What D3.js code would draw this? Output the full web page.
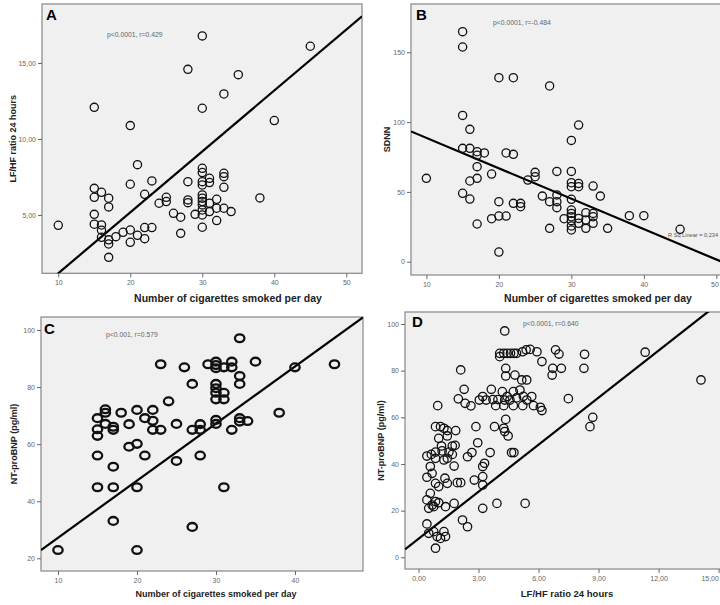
<!DOCTYPE html>
<html>
<head>
<meta charset="utf-8">
<script src="https://cdn.jsdelivr.net/npm/d3@7"></script>
<style>
  html, body { margin: 0; padding: 0; background: #ffffff; }
  svg { display: block; }
  text { font-family: Arial, "Liberation Sans", sans-serif; }
</style>
</head>
<body>
<svg id="chart" width="720" height="605"></svg>
<script>
// ---------- DATA ----------
// Panel A: cigarettes/day vs LF/HF ratio 24 hours
const pointsA = [
  [10,4.32],[15,12.08],[15,6.75],[15,6.16],[15,5.04],[15,4.39],
  [16,6.49],[16,4.34],[16,4.0],[16,3.53],
  [17,6.1],[17,5.53],[17,3.36],[17,3.09],[17,2.21],
  [18,3.57],[19,3.86],[20,10.88],[20,7.02],[20,4.01],[20,3.2],
  [21,3.66],[21,8.31],[22,6.36],[22,4.17],[22,3.44],[23,7.24],[23,4.17],
  [24,5.77],[25,6.16],[25,5.88],[26,5.11],[27,4.85],[27,3.79],
  [28,14.58],[28,7.19],[28,5.99],[28,5.81],[29,5.04],
  [30,16.78],[30,12.02],[30,8.07],[30,7.79],[30,7.19],[30,6.97],[30,6.32],[30,6.1],
  [30,5.88],[30,5.66],[30,5.33],[30,5.0],[30,4.19],
  [31,7.41],[31,7.13],[31,5.77],[31,5.22],[32,6.03],[32,5.44],[32,4.63],
  [33,12.96],[33,7.74],[33,7.52],[33,6.82],[33,5.44],[34,5.22],[35,14.23],
  [38,6.12],[40,11.21],[45,16.1]
];
// Panel B: cigarettes/day vs SDNN
const pointsB = [
  [10,59.7],[15,164.8],[15,153.8],[15,104.8],[15,81.2],[15,49],
  [16,94.8],[16,81.2],[16,57.8],[16,44.9],
  [17,78.8],[17,76.2],[17,68.1],[17,59.7],[17,27],[18,77.9],
  [19,62.8],[19,30.8],[20,131.8],[20,43],[20,32.7],[20,6.9],
  [21,32.7],[21,77.9],[22,131.8],[22,76.9],[22,41.8],[23,41.8],[23,39.4],
  [24,58.5],[25,64],[25,60.9],[26,47],[27,125.9],[27,43],[27,23.9],
  [28,64.7],[28,47.8],[28,43],[28,38.7],[29,30.8],
  [30,86.9],[30,64.7],[30,56.6],[30,53.7],[30,44.7],[30,37],[30,34.6],[30,32.2],
  [30,29.4],[30,25.6],[30,22.7],
  [31,97.9],[31,56.1],[31,53.7],[31,31],[31,27.5],[32,35.1],[32,29.9],[32,23.9],
  [33,54.2],[33,34.6],[33,32.2],[33,27.5],[34,47],[35,23.9],[38,33],[40,33],[45,23.2]
];
// Panel C: cigarettes/day vs NT-proBNP
const pointsC = [
  [10,22.9],[15,69.1],[15,65.2],[15,62.9],[15,56],[15,44.9],
  [16,72.2],[16,71],[16,67.1],[17,66.1],[17,65],[17,52.1],[17,44.9],[17,33.1],
  [18,71],[19,67],[19,59.1],[20,72],[20,60.1],[20,44.9],[20,22.9],
  [21,69.1],[21,56],[22,72],[22,68.2],[22,65],[23,88],[23,65],[24,75],
  [25,67.1],[25,54.1],[26,86.9],[27,81.1],[27,65],[27,31],
  [28,67],[28,65],[28,56],[29,88],
  [30,88.9],[30,87.7],[30,86.6],[30,81.1],[30,79.6],[30,78],[30,75.7],[30,68.5],[30,67.1],
  [31,86.9],[31,78],[31,75.7],[31,44.9],[32,88.9],[32,86.9],[32,65],
  [33,97.1],[33,83.9],[33,81.1],[33,69.1],[33,67.9],[34,68.1],[35,88.9],
  [38,71],[40,86.9],[45,88]
];
// Panel D: LF/HF ratio 24 hours vs NT-proBNP
const pointsD = [
  [4.31,97],[4.06,87.4],[4.26,87.4],[4.43,87.4],[4.6,87.4],[4.77,87.4],[4.9,87.4],[4.06,86],
  [5.2,88.1],[5.38,88.9],[5.58,89.1],[5.92,88.1],[6.85,88.9],[7.02,87.1],
  [6.17,83.9],[6.71,81],[7.14,81],[6.68,78.1],[8.3,87],[8.27,81],
  [2.11,80.3],[4.36,81],[4.36,77.7],[4.82,78.1],[5.16,76],[5.41,76],
  [2.28,72],[3.64,72],[1.99,67.9],[2.33,66],[2.62,64.9],
  [3.04,67.4],[3.21,68.9],[3.38,67.4],[3.72,67.6],[3.97,67.6],[4.19,71],[4.31,67.4],
  [4.43,68.9],[4.57,67.4],[4.74,71],[4.9,68.3],[5.07,71.7],[5.24,69],[5.41,67.4],[5.66,68.9],
  [3.86,65],[4.26,65],[4.74,65],[5.21,65],[5.75,65],[6.09,64.3],[6.17,62.9],
  [7.49,68],[0.96,65],
  [0.85,56],[1.1,56],[1.27,55.3],[1.44,54.3],[1.86,54.3],[2.87,56],[3.8,56],
  [4.36,59.1],[4.26,55.3],[4.31,53.9],[4.48,52],[1.01,51],[1.44,52],
  [1.15,47.7],[1.69,47.7],[1.83,48],[2.96,49.1],
  [0.42,43.4],[0.64,44.1],[0.85,45.1],[1.18,45.6],[1.52,45.1],[1.69,44.1],
  [0.59,38.9],[0.85,42.4],[1.27,41.7],[1.44,42.4],[1.78,39.1],
  [2.45,43.1],[2.67,44.9],[3.58,44.9],[4.65,44.9],[4.77,44.9],[3.21,38.9],[3.3,40.3],
  [0.42,34.3],[0.68,36],[1.32,33.9],[1.44,31.7],[1.94,32],[2.11,32],[2.79,33.1],[3.21,34.6],[3.21,31],
  [0.85,31.7],[1.01,30.3],[0.59,27.4],
  [0.42,24.6],[0.68,22.4],[0.85,23.9],[1.01,23.4],[0.51,21],[0.76,21.7],
  [1.35,21.7],[1.78,23.1],[3.21,21],[3.92,23.1],[5.33,23.1],
  [2.2,16],[2.45,13.1],[0.42,14.3],
  [0.51,10.3],[0.76,11],[0.93,8.9],[1.1,8.1],[1.27,11],[1.35,8.9],[0.85,3.9],
  [8.71,60],[8.57,56],[11.33,87.9],[14.12,76]
];
// Linear fits [intercept, slope]
const fitA = [-2.85, 0.401];
const fitB = [110.5, -2.179];
const fitC = [7.2, 2.0];
const fitD = [7.96, 6.72];
// Tick values
const ticksCig = [10, 20, 30, 40, 50];
const ticksCigC = [10, 20, 30, 40];
const ticksLFHF_A = [5, 10, 15];
const ticksSDNN = [0, 50, 100, 150];
const ticksBNP_C = [20, 40, 60, 80, 100];
const ticksBNP_D = [0, 20, 40, 60, 80, 100];
const ticksLFHF_D = [0, 3, 6, 9, 12, 15];
// Text
const panelLetters = ["A", "B", "C", "D"];
const statTexts = ["p<0.0001, r=0.429", "p<0.0001, r=-0.484", "p<0.001, r=0.579", "p<0.0001, r=0.640"];
const xTitles = ["Number of cigarettes smoked per day", "Number of cigarettes smoked per day",
                 "Number of cigarettes smoked per day", "LF/HF ratio 24 hours"];
const yTitles = ["LF/HF ratio 24 hours", "SDNN", "NT-proBNP (pg/ml)", "NT-proBNP (pg/ml)"];
const rSqText = "R Sq Linear = 0,234";

// ---------- DRAW ----------
const svg = d3.select("#chart");
const comma2 = d => d3.format(".2f")(d).replace(".", ",");
const plain = d => String(d);

const panels = [
  { id: "A", pts: pointsA, fit: fitA, px: [42, 362], py: [273.3, 4], xd: [7.74, 52.18], yd: [1.16, 18.88],
    xt: ticksCig, yt: ticksLFHF_A, xf: plain, yf: comma2, letter: panelLetters[0], stat: statTexts[0],
    xTitle: xTitles[0], yTitle: yTitles[0], rx: 4.1, ry: 4.1, sw: 1.3,
    letterPos: [46, 20], statPos: [107, 37], xTitlePos: [228, 302], yTitleX: 13, xTitleSize: 10.5, tickFont: 7 },
  { id: "B", pts: pointsB, fit: fitB, px: [411, 722], py: [275, 4], xd: [7.88, 50.78], yd: [-9.53, 184.6],
    xt: ticksCig, yt: ticksSDNN, xf: plain, yf: plain, letter: panelLetters[1], stat: statTexts[1],
    xTitle: xTitles[1], yTitle: yTitles[1], rx: 4.1, ry: 4.1, sw: 1.3,
    letterPos: [416, 20], statPos: [493, 25], xTitlePos: [598, 302], yTitleX: 387, xTitleSize: 10.5, tickFont: 7 },
  { id: "C", pts: pointsC, fit: fitC, px: [41, 363], py: [571, 317], xd: [7.85, 48.61], yd: [15.55, 104.55],
    xt: ticksCigC, yt: ticksBNP_C, xf: plain, yf: plain, letter: panelLetters[2], stat: statTexts[2],
    xTitle: xTitles[2], yTitle: yTitles[2], rx: 4.7, ry: 3.9, sw: 2.3,
    letterPos: [44, 334], statPos: [106, 337], xTitlePos: [216, 597], yTitleX: 14, xTitleSize: 9, tickFont: 7 },
  { id: "D", pts: pointsD, fit: fitD, px: [405, 722], py: [569, 312], xd: [-0.675, 15.17], yd: [-5.01, 105.13],
    xt: ticksLFHF_D, yt: ticksBNP_D, xf: comma2, yf: plain, letter: panelLetters[3], stat: statTexts[3],
    xTitle: xTitles[3], yTitle: yTitles[3], rx: 4.2, ry: 4.2, sw: 1.3,
    letterPos: [412, 327], statPos: [523, 326], xTitlePos: [567, 597], yTitleX: 381, xTitleSize: 9.5, tickFont: 7 }
];

panels.forEach((p, i) => {
  const x = d3.scaleLinear().domain(p.xd).range(p.px);
  const y = d3.scaleLinear().domain(p.yd).range(p.py);
  const g = svg.append("g").attr("class", "panel-" + p.id);

  const clipId = "clip" + p.id;
  g.append("clipPath").attr("id", clipId).append("rect")
    .attr("x", p.px[0]).attr("y", p.py[1]).attr("width", p.px[1] - p.px[0]).attr("height", p.py[0] - p.py[1]);

  // background + frame
  g.append("rect")
    .attr("x", p.px[0]).attr("y", p.py[1]).attr("width", p.px[1] - p.px[0]).attr("height", p.py[0] - p.py[1])
    .attr("fill", "#f0f0f0").attr("stroke", "#8f8f8f").attr("stroke-width", 1.3);

  // axes
  const xAxis = d3.axisBottom(x).tickValues(p.xt).tickFormat(p.xf).tickSize(4).tickPadding(3);
  const yAxis = d3.axisLeft(y).tickValues(p.yt).tickFormat(p.yf).tickSize(4).tickPadding(2);
  const gx = g.append("g").attr("transform", `translate(0,${p.py[0]})`).call(xAxis);
  const gy = g.append("g").attr("transform", `translate(${p.px[0]},0)`).call(yAxis);
  [gx, gy].forEach(a => {
    a.select(".domain").remove();
    a.selectAll(".tick line").attr("stroke", "#666").attr("stroke-width", 1);
    a.selectAll(".tick text").attr("fill", "#666").style("font-size", p.tickFont + "px")
      .style("font-family", "Arial, 'Liberation Sans', sans-serif");
  });
  // keep labels that would cross the right page edge inside it
  gx.selectAll(".tick text").each(function () {
    const bb = this.getBBox();
    const tx = +this.parentNode.getAttribute("transform").match(/translate\(([-\d.]+)/)[1];
    const over = tx + bb.x + bb.width - 719;
    if (over > 0) d3.select(this).attr("dx", -over);
  });

  // regression line
  const lx = p.xd;
  g.append("line")
    .attr("clip-path", `url(#${clipId})`)
    .attr("x1", x(lx[0])).attr("y1", y(p.fit[0] + p.fit[1] * lx[0]))
    .attr("x2", x(lx[1])).attr("y2", y(p.fit[0] + p.fit[1] * lx[1]))
    .attr("stroke", "#000").attr("stroke-width", 2.2);

  // points
  g.append("g").attr("clip-path", `url(#${clipId})`)
    .selectAll("ellipse").data(p.pts).join("ellipse")
    .attr("cx", d => x(d[0])).attr("cy", d => y(d[1]))
    .attr("rx", p.rx).attr("ry", p.ry)
    .attr("fill", "none").attr("stroke", "#111").attr("stroke-width", p.sw);

  // panel letter
  g.append("text").attr("x", p.letterPos[0]).attr("y", p.letterPos[1])
    .attr("font-size", 15).attr("font-weight", "bold").attr("fill", "#000").text(p.letter);

  // stat annotation
  g.append("text").attr("x", p.statPos[0]).attr("y", p.statPos[1])
    .attr("font-size", 6.8).attr("fill", "#666").text(p.stat);

  // axis titles
  g.append("text").attr("x", p.xTitlePos[0]).attr("y", p.xTitlePos[1])
    .attr("text-anchor", "middle").attr("font-size", p.xTitleSize).attr("font-weight", "bold")
    .attr("fill", "#222").text(p.xTitle);
  const cy = (p.py[0] + p.py[1]) / 2;
  g.append("text").attr("transform", `translate(${p.yTitleX},${cy}) rotate(-90)`)
    .attr("text-anchor", "middle").attr("dy", "0.35em").attr("font-size", 9).attr("font-weight", "bold")
    .attr("fill", "#222").text(p.yTitle);

  if (p.id === "B") {
    g.append("text").attr("x", 718).attr("y", 237).attr("text-anchor", "end")
      .attr("font-size", 5.6).attr("fill", "#555").text(rSqText);
  }
});
</script>
</body>
</html>
